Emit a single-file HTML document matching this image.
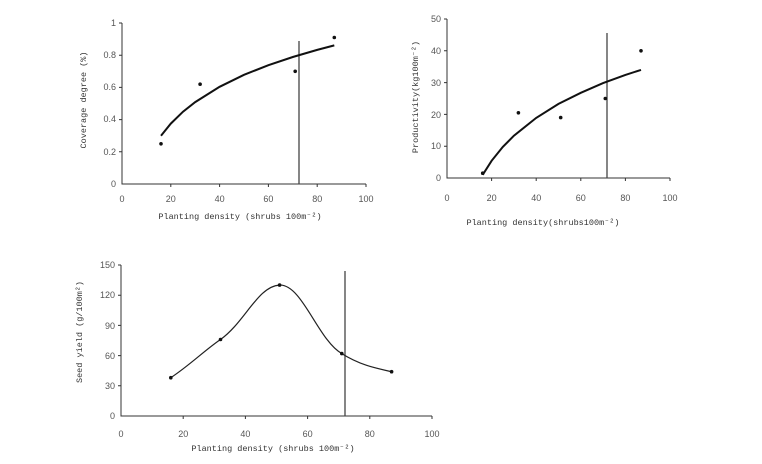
<!DOCTYPE html>
<html><head><meta charset="utf-8"><style>
body{margin:0;background:#fff}
svg{display:block}
text{font-family:"Liberation Mono","DejaVu Sans Mono",monospace;fill:#444}
.t{font-size:9px;font-family:"Liberation Sans",sans-serif;fill:#555}
.a{font-size:8.5px;fill:#333}
</style></head><body>
<svg width="762" height="464" viewBox="0 0 762 464" xmlns="http://www.w3.org/2000/svg">
<g stroke="#333" stroke-width="1" fill="none">
<!-- chart1 -->
<path d="M122,23V184H366"/>
<path d="M170.8,184v3M219.6,184v3M268.4,184v3M317.2,184v3M366,184v3M119,23h3M119,55.2h3M119,87.4h3M119,119.6h3M119,151.8h3"/>
<path d="M299,41V184" stroke="#444" stroke-width="1.3"/>
<polyline stroke="#111" stroke-width="2" points="161,135.7 170.8,123.6 183,111.7 195.2,102.1 219.6,86.8 244,74.8 268.4,65.2 292.8,57 317.2,49.9 334.3,45.4"/>
<!-- chart2 -->
<path d="M447,19V178H670"/>
<path d="M491.6,178v3M536.2,178v3M580.8,178v3M625.4,178v3M670,178v3M444,19h3M444,50.8h3M444,82.6h3M444,114.4h3M444,146.2h3"/>
<path d="M607,33V178" stroke="#444" stroke-width="1.3"/>
<polyline stroke="#111" stroke-width="2" points="482.7,174.8 491.6,160.8 502.8,146.9 513.9,135.7 536.2,117.9 558.5,103.9 580.8,92.8 603.1,83.1 625.4,74.9 641,69.9"/>
<!-- chart3 -->
<path d="M121,265V416H432"/>
<path d="M183.2,416v3M245.4,416v3M307.6,416v3M369.8,416v3M432,416v3M118,265h3M118,295.2h3M118,325.4h3M118,355.6h3M118,385.8h3"/>
<path d="M345,271V416" stroke="#444" stroke-width="1.3"/>
<path stroke="#222" stroke-width="1.2" d="M170.8,377.7 C190,365 205,350 220.5,339.5 C245,322 258,286 279.6,285.1 C302,284 318,340 341.8,353.6 C360,365 375,368 391.6,371.7"/>
</g>
<g fill="#111">
<circle cx="161" cy="143.8" r="1.8"/><circle cx="200.1" cy="84.2" r="1.8"/><circle cx="295.2" cy="71.3" r="1.8"/><circle cx="334.3" cy="37.5" r="1.8"/>
<circle cx="482.7" cy="173.2" r="1.8"/><circle cx="518.4" cy="112.8" r="1.8"/><circle cx="560.7" cy="117.6" r="1.8"/><circle cx="605.3" cy="98.5" r="1.8"/><circle cx="641" cy="50.8" r="1.8"/>
<circle cx="170.8" cy="377.7" r="1.8"/><circle cx="220.5" cy="339.5" r="1.8"/><circle cx="279.6" cy="285.1" r="1.8"/><circle cx="341.8" cy="353.6" r="1.8"/><circle cx="391.6" cy="371.7" r="1.8"/>
</g>
<!-- labels chart1 -->
<g class="t" text-anchor="end">
<text x="116" y="26" class="t">1</text><text x="116" y="58" class="t">0.8</text><text x="116" y="90" class="t">0.6</text><text x="116" y="122" class="t">0.4</text><text x="116" y="155" class="t">0.2</text><text x="116" y="187" class="t">0</text>
<text x="441" y="22" class="t">50</text><text x="441" y="54" class="t">40</text><text x="441" y="86" class="t">30</text><text x="441" y="118" class="t">20</text><text x="441" y="149" class="t">10</text><text x="441" y="181" class="t">0</text>
<text x="115" y="268" class="t">150</text><text x="115" y="298" class="t">120</text><text x="115" y="329" class="t">90</text><text x="115" y="359" class="t">60</text><text x="115" y="389" class="t">30</text><text x="115" y="419" class="t">0</text>
</g>
<g text-anchor="middle">
<text x="122" y="202" class="t">0</text><text x="170.8" y="202" class="t">20</text><text x="219.6" y="202" class="t">40</text><text x="268.4" y="202" class="t">60</text><text x="317.2" y="202" class="t">80</text><text x="366" y="202" class="t">100</text>
<text x="447" y="201" class="t">0</text><text x="491.6" y="201" class="t">20</text><text x="536.2" y="201" class="t">40</text><text x="580.8" y="201" class="t">60</text><text x="625.4" y="201" class="t">80</text><text x="670" y="201" class="t">100</text>
<text x="121" y="437" class="t">0</text><text x="183.2" y="437" class="t">20</text><text x="245.4" y="437" class="t">40</text><text x="307.6" y="437" class="t">60</text><text x="369.8" y="437" class="t">80</text><text x="432" y="437" class="t">100</text>
<text x="240" y="219" class="a">Planting density (shrubs 100m⁻²)</text>
<text x="543" y="225" class="a" font-size="9.5">Planting density(shrubs100m⁻²)</text>
<text x="273" y="451" class="a">Planting density (shrubs 100m⁻²)</text>
<text transform="translate(86,100) rotate(-90)" class="a">Coverage degree (%)</text>
<text transform="translate(418,97) rotate(-90)" class="a" font-size="10">Productivity(kg100m⁻²)</text>
<text transform="translate(82,332) rotate(-90)" class="a">Seed yield  (g/100m²)</text>
</g>
</svg>
</body></html>
